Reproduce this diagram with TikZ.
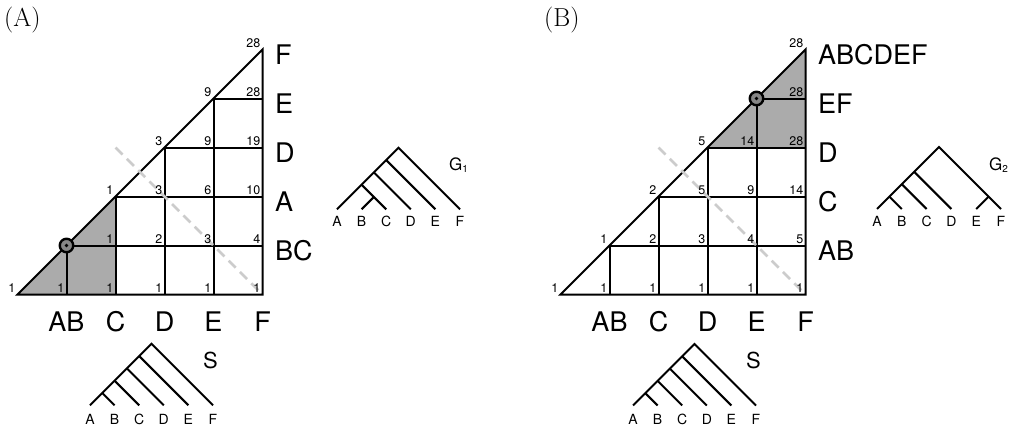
\documentclass[tikz,border=0pt]{standalone}
\usepackage{fontspec}
\newfontfamily\hv{TeX Gyre Heros}
\newcommand\tnode[6]{\coordinate (#1) at ({#2+#4*(#5+#6-2)/2},{#3-#4*(#6-#5)/2});}
\newcommand\tleaves[5]{%
  \foreach \k/\t in {1/A,2/B,3/C,4/D,5/E,6/F}{%
    \tnode{#1\k}{#2}{#3}{#4}{\k}{\k}%
    \node[leaf] (#1l\k) at ([yshift=-#5pt]#1\k) {\t};}}
\newcommand\tgrid[3]{%
  \begin{scope}[shift={(#2,#3)},x=49pt,y=49pt]
    \foreach \i in {0,...,5}{\foreach \j in {0,...,\i}{\coordinate (#1\i\j) at (\i,\j);}}
    \coordinate (#1d) at (2,3);
  \end{scope}}
\tikzset{
  gridline/.style={line width=2pt},
  treeline/.style={line width=2pt},
  shade/.style={fill=gray!66},
  dashline/.style={draw=gray!40, line width=2.5pt, dash pattern=on 10pt off 6pt},
  marker/.style={circle, draw, line width=2.4pt, fill=gray!95, minimum size=13.5pt, inner sep=0pt},
  dot/.style={circle, fill=black, minimum size=3.6pt, inner sep=0pt},
  num/.style={font=\hv\fontsize{12.5}{12.5}\selectfont, anchor=south east, inner sep=0pt, xshift=-2pt, yshift=2pt},
  big/.style={font=\hv\fontsize{27}{27}\selectfont, inner sep=0pt},
  leaf/.style={font=\hv\fontsize{14}{14}\selectfont, inner sep=0pt},
  slab/.style={font=\hv\fontsize{22}{22}\selectfont, inner sep=0pt, anchor=base west},
  glab/.style={font=\hv\fontsize{17}{17}\selectfont, inner sep=0pt, anchor=base west},
  plab/.style={font=\fontsize{26}{26}\selectfont, inner sep=0pt, anchor=base west}
}
\begin{document}
\begin{tikzpicture}[x=1pt,y=-1pt]
\useasboundingbox (0,0) rectangle (1021,431);
% ---------------- Panel A ----------------
\node[plab] (PA) at (4,26.5) {(A)};
\tgrid{A}{17.5}{294.5}
\fill[shade] (A00) -- (A20) -- (A22) -- cycle;
\draw[gridline] (A00) -- (A50) -- (A55) -- cycle;
\foreach \k in {1,...,4}{\draw[gridline] (A\k0) -- (A\k\k) -- (A5\k);}
\draw[dashline] (Ad) -- (A50);
\node[marker] (Am) at (A11) {};
\node[dot] (Amd) at (A11) {};
\foreach \i/\j/\v in {0/0/1,1/0/1,2/0/1,3/0/1,4/0/1,5/0/1,2/1/1,3/1/2,4/1/3,5/1/4,2/2/1,3/2/3,4/2/6,5/2/10,3/3/3,4/3/9,5/3/19,4/4/9,5/4/28,5/5/28}
  {\node[num] (An\i\j) at (A\i\j) {\v};}
\foreach \i/\t in {1/AB,2/C,3/D,4/E,5/F}
  {\node[big] (Ab\i) at ([yshift=-27.5pt]A\i0) {\t};}
\foreach \j/\t in {1/BC,2/A,3/D,4/E,5/F}
  {\node[big, anchor=west] (Ar\j) at ([xshift=12.5pt,yshift=-5pt]A5\j) {\t};}
% S tree (A)
\tleaves{S}{90}{405.3}{24.6}{14}
\foreach \j in {2,...,6}{\tnode{Sn\j}{90}{405.3}{24.6}{1}{\j}}
\draw[treeline] (S1) -- (Sn6) -- (S6);
\foreach \j in {2,...,5}{\draw[treeline] (S\j) -- (Sn\j);}
\node[slab] (Slab) at (203,368.5) {S};
% G1 tree
\tleaves{G}{337}{209.3}{24.6}{12}
\tnode{Gbc}{337}{209.3}{24.6}{2}{3}
\foreach \j in {3,...,6}{\tnode{Gn\j}{337}{209.3}{24.6}{1}{\j}}
\draw[treeline] (G1) -- (Gn6) -- (G6);
\draw[treeline] (G3) -- (Gn3);
\draw[treeline] (G2) -- (Gbc);
\draw[treeline] (G4) -- (Gn4);
\draw[treeline] (G5) -- (Gn5);
\node[glab] (G1lab) at (449,170.5) {G\raisebox{-2pt}{\fontsize{10}{10}\selectfont 1}};
% ---------------- Panel B ----------------
\node[plab] (PB) at (544,26.5) {(B)};
\tgrid{B}{560.5}{294.5}
\fill[shade] (B33) -- (B53) -- (B55) -- cycle;
\draw[gridline] (B00) -- (B50) -- (B55) -- cycle;
\foreach \k in {1,...,4}{\draw[gridline] (B\k0) -- (B\k\k) -- (B5\k);}
\draw[dashline] (Bd) -- (B50);
\node[marker] (Bm) at (B44) {};
\node[dot] (Bmd) at (B44) {};
\foreach \i/\j/\v in {0/0/1,1/0/1,2/0/1,3/0/1,4/0/1,5/0/1,1/1/1,2/1/2,3/1/3,4/1/4,5/1/5,2/2/2,3/2/5,4/2/9,5/2/14,3/3/5,4/3/14,5/3/28,5/4/28,5/5/28}
  {\node[num] (Bn\i\j) at (B\i\j) {\v};}
\foreach \i/\t in {1/AB,2/C,3/D,4/E,5/F}
  {\node[big] (Bb\i) at ([yshift=-27.5pt]B\i0) {\t};}
\foreach \j/\t in {1/AB,2/C,3/D,4/EF,5/ABCDEF}
  {\node[big, anchor=west] (Br\j) at ([xshift=12.5pt,yshift=-5pt]B5\j) {\t};}
% S tree (B)
\tleaves{T}{633}{405.5}{24.6}{14}
\foreach \j in {2,...,6}{\tnode{Tn\j}{633}{405.5}{24.6}{1}{\j}}
\draw[treeline] (T1) -- (Tn6) -- (T6);
\foreach \j in {2,...,5}{\draw[treeline] (T\j) -- (Tn\j);}
\node[slab] (Tlab) at (746,368.5) {S};
% G2 tree
\tleaves{H}{877}{209}{24.8}{12}
\tnode{Hef}{877}{209}{24.8}{5}{6}
\foreach \j in {2,3,4,6}{\tnode{Hn\j}{877}{209}{24.8}{1}{\j}}
\draw[treeline] (H1) -- (Hn6) -- (H6);
\draw[treeline] (H2) -- (Hn2);
\draw[treeline] (H3) -- (Hn3);
\draw[treeline] (H4) -- (Hn4);
\draw[treeline] (H5) -- (Hef);
\node[glab] (G2lab) at (989,170.5) {G\raisebox{-2pt}{\fontsize{10}{10}\selectfont 2}};
\end{tikzpicture}
\end{document}
